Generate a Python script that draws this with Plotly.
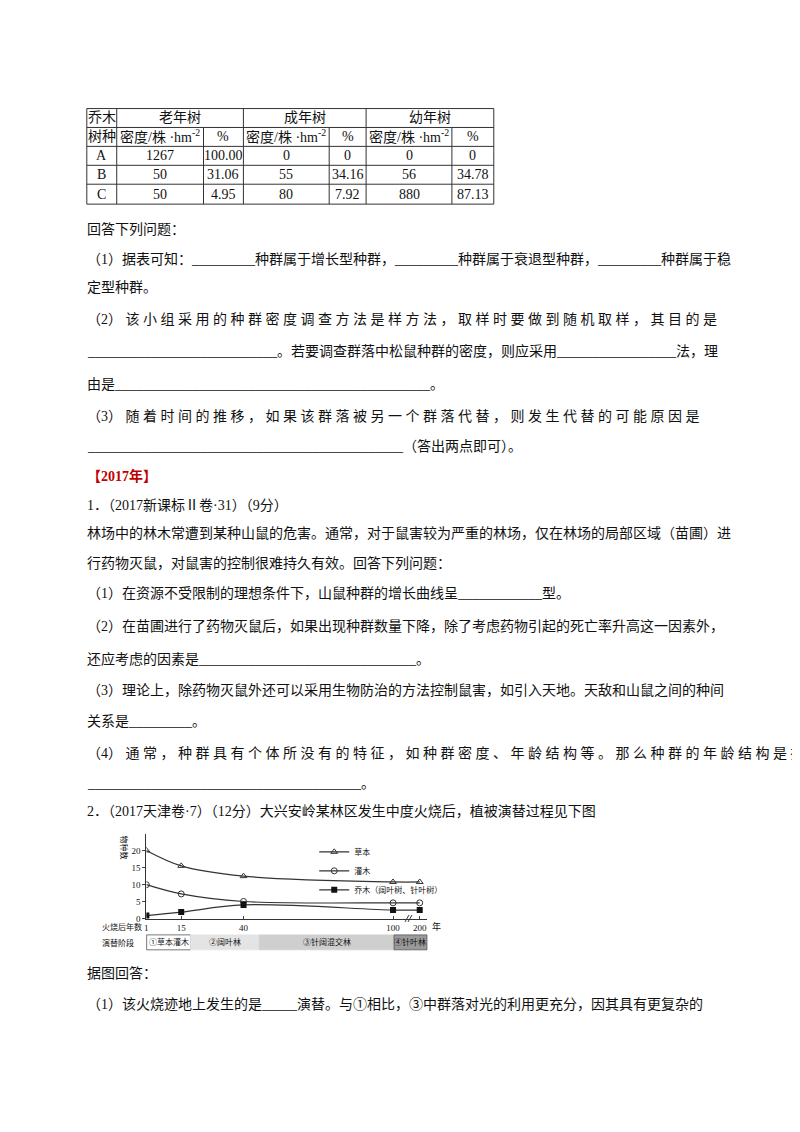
import plotly.graph_objects as go

W, H = 800, 1132
# ---------- data ----------
years = [1, 15, 40, 100, 200]
year_labels = ["1", "15", "40", "100", "200"]
herb = [20, 15.5, 12.5, 10.8, 10.8]
shrub = [10, 7.3, 5.1, 4.7, 4.7]
tree = [1, 2, 4.1, 2.6, 2.6]
series_names = ["草本", "灌木", "乔木（阔叶树、针叶树）"]
stages = ["①草本灌木", "②阔叶林", "③针阔混交林", "④针叶林"]
stage_colors = ["#ffffff", "#e4e4e4", "#cfcfcf", "#9a9a9a"]

table_groups = ["老年树", "成年树", "幼年树"]
table_species = ["A", "B", "C"]
table_density = [[1267, 0, 0], [50, 55, 56], [50, 80, 880]]
table_pct = [["100.00", "0", "0"], ["31.06", "34.16", "34.78"], ["4.95", "7.92", "87.13"]]

FONT = "Liberation Serif, Noto Sans CJK SC, serif"

def px(x): return x / W
def py(y): return 1 - y / H

# axis-break mapping: 200 drawn just after 100
def xpos(y):
    return y if y <= 100 else 110.7

fig = go.Figure()
sty = dict(color="#333333", width=1.2)
fig.add_trace(go.Scatter(x=[xpos(v) for v in years], y=herb, name=series_names[0], mode="lines+markers",
                         line=dict(shape="spline", **sty),
                         marker=dict(symbol="triangle-up-open", size=6, color="#333")))
fig.add_trace(go.Scatter(x=[xpos(v) for v in years], y=shrub, name=series_names[1], mode="lines+markers",
                         line=dict(shape="spline", **sty),
                         marker=dict(symbol="circle-open", size=6, color="#333")))
fig.add_trace(go.Scatter(x=[xpos(v) for v in years], y=tree, name=series_names[2], mode="lines+markers",
                         line=dict(shape="spline", **sty),
                         marker=dict(symbol="square", size=6, color="#111")))

x0, x1 = 136.7, 418
xr = [1, 1 + (x1 - x0) / 2.498]
fig.update_layout(
    width=W, height=H, margin=dict(l=0, r=0, t=0, b=0),
    paper_bgcolor="white", plot_bgcolor="white",
    font=dict(family=FONT, size=14, color="#111"),
    xaxis=dict(domain=[px(x0), px(x1)], range=xr, tickvals=[xpos(v) for v in years], ticktext=year_labels,
               showgrid=False, zeroline=False, showline=True, linecolor="#333", ticks="inside",
               ticklen=3, tickfont=dict(size=9), anchor="y"),
    yaxis=dict(domain=[py(915), py(830)], range=[0, 24.7], tickvals=[0, 5, 10, 15, 20],
               showgrid=False, zeroline=False, showline=True, linecolor="#333", ticks="outside",
               ticklen=3, tickfont=dict(size=9), anchor="x"),
    legend=dict(x=px(305), y=py(833), xanchor="left", yanchor="top", font=dict(size=8),
                bgcolor="rgba(0,0,0,0)", tracegroupgap=0, itemwidth=30),
    showlegend=True,
)

ann = []
shapes = []

def text(x, y, s, size=14, anchor="left", color="#111", bold=False, angle=0):
    if bold:
        s = "<b>" + s + "</b>"
    ann.append(dict(x=px(x), y=py(y), xref="paper", yref="paper", text=s, showarrow=False,
                    xanchor=anchor, yanchor="middle", textangle=angle,
                    font=dict(size=size, color=color, family=FONT)))

def line(xa, ya, xb, yb, w=1, c="#333"):
    shapes.append(dict(type="line", xref="paper", yref="paper", x0=px(xa), y0=py(ya), x1=px(xb), y1=py(yb),
                       line=dict(color=c, width=w)))

# ---------- table ----------
vx = [77, 107, 194, 234, 320, 357, 443, 485]
hy = [101, 120, 139, 158, 177, 197]
for y in hy:
    line(vx[0], y, vx[-1], y)
for i, x in enumerate(vx):
    if i in (0, 1, 3, 5, 7):
        line(x, hy[0], x, hy[-1])
    else:
        line(x, hy[1], x, hy[-1])
text(92, 110, "乔木", 14, "center")
text(92, 129, "树种", 14, "center")
for g, name in enumerate(table_groups):
    a, b, c = vx[1 + 2 * g], vx[2 + 2 * g], vx[3 + 2 * g]
    text((a + c) / 2, 110, name, 14, "center")
    text((a + b) / 2, 129, "密度/株 ·hm<sup>-2</sup>", 14, "center")
    text((b + c) / 2, 129, "%", 14, "center")
for r, sp in enumerate(table_species):
    yc = (hy[2 + r] + hy[3 + r]) / 2
    text(92, yc, sp, 14, "center")
    for g in range(3):
        a, b, c = vx[1 + 2 * g], vx[2 + 2 * g], vx[3 + 2 * g]
        text((a + b) / 2, yc, str(table_density[r][g]), 14, "center")
        text((b + c) / 2, yc, table_pct[r][g], 14, "center")

# ---------- body text ----------
L = 75
def u(n): return "_" * n
body = [
    (222, "回答下列问题："),
    (252, "（1）据表可知：" + u(9) + "种群属于增长型种群，" + u(9) + "种群属于衰退型种群，" + u(9) + "种群属于稳"),
    (281, "定型种群。"),
    (312, "（2） 该 小 组 采 用 的 种 群 密 度 调 查 方 法 是 样 方 法 ， 取 样 时 要 做 到 随 机 取 样 ， 其 目 的 是"),
    (345, u(27) + "。若要调查群落中松鼠种群的密度，则应采用" + u(17) + "法，理"),
    (378, "由是" + u(45) + "。"),
    (410, "（3） 随 着 时 间 的 推 移 ， 如 果 该 群 落 被 另 一 个 群 落 代 替 ， 则 发 生 代 替 的 可 能 原 因 是"),
    (440, u(45) + "（答出两点即可）。"),
    (500, "1．（2017新课标Ⅱ卷·31）（9分）"),
    (528, "林场中的林木常遭到某种山鼠的危害。通常，对于鼠害较为严重的林场，仅在林场的局部区域（苗圃）进"),
    (557, "行药物灭鼠，对鼠害的控制很难持久有效。回答下列问题："),
    (588, "（1）在资源不受限制的理想条件下，山鼠种群的增长曲线呈" + u(12) + "型。"),
    (621, "（2）在苗圃进行了药物灭鼠后，如果出现种群数量下降，除了考虑药物引起的死亡率升高这一因素外，"),
    (654, "还应考虑的因素是" + u(31) + "。"),
    (686, "（3）理论上，除药物灭鼠外还可以采用生物防治的方法控制鼠害，如引入天地。天敌和山鼠之间的种间"),
    (717, "关系是" + u(9) + "。"),
    (748, "（4） 通 常 ， 种 群 具 有 个 体 所 没 有 的 特 征 ， 如 种 群 密 度 、 年 龄 结 构 等 。 那 么 种 群 的 年 龄 结 构 是 指"),
    (779, u(39) + "。"),
    (807, "2．（2017天津卷·7）（12分）大兴安岭某林区发生中度火烧后，植被演替过程见下图"),
    (969, "据图回答："),
    (1000, "（1）该火烧迹地上发生的是" + u(5) + "演替。与①相比，③中群落对光的利用更充分，因其具有更复杂的"),
]
for y, s in body:
    text(L, y, s, 14)
text(L, 470, "【2017年】", 14, color="#c00000", bold=True)

# ---------- chart extras ----------
text(114, 843, "物种数", 8, "center", angle=90)
text(90, 923, "火烧后年数", 8)
text(90, 939, "演替阶段", 8)
text(421, 923, "年", 9)
line(396, 918, 400, 911, 1)
line(399, 918, 403, 911, 1)
stage_bounds = [137, 181, 250, 385, 418]
for i, st in enumerate(stages):
    shapes.append(dict(type="rect", xref="paper", yref="paper", x0=px(stage_bounds[i]), x1=px(stage_bounds[i + 1]),
                       y0=py(946), y1=py(931), fillcolor=stage_colors[i],
                       line=dict(color="#555" if i in (0, 3) else stage_colors[i], width=0.8)))
    text((stage_bounds[i] + stage_bounds[i + 1]) / 2, 938.5, st, 8, "center")

fig.update_layout(annotations=ann, shapes=shapes)
fig.write_html("out.html")
